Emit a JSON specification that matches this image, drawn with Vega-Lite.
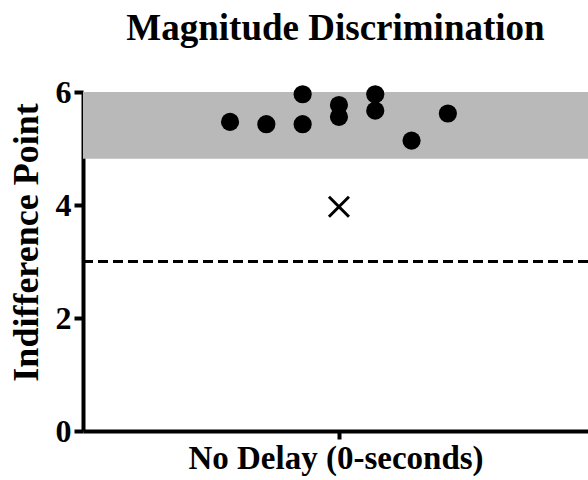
{
  "$schema": "https://vega.github.io/schema/vega-lite/v6.json",
  "autosize": "none",
  "padding": {"left": 83, "top": 92, "right": 0, "bottom": 49},
  "width": 505,
  "height": 339,
  "background": "white",
  "config": {
    "view": {"stroke": null},
    "font": "Liberation Serif"
  },
  "title": {
    "text": "Magnitude Discrimination",
    "font": "Liberation Serif",
    "fontSize": 37,
    "fontWeight": "bold",
    "color": "black",
    "offset": 28,
    "anchor": "middle"
  },
  "datasets": {
    "band": [{"lo": 4.82, "hi": 6}],
    "chance": [{"y": 3}],
    "points": [
      {"x": -3, "y": 5.47},
      {"x": -2, "y": 5.43},
      {"x": -1, "y": 5.96},
      {"x": -1, "y": 5.43},
      {"x": 0, "y": 5.77},
      {"x": 0, "y": 5.56},
      {"x": 1, "y": 5.96},
      {"x": 1, "y": 5.67},
      {"x": 2, "y": 5.14},
      {"x": 3, "y": 5.62}
    ],
    "mean": [{"x": 0, "y": 3.97}]
  },
  "layer": [
    {
      "data": {"name": "band"},
      "mark": {"type": "rect", "color": "#b9b9b9"},
      "encoding": {
        "y": {"field": "lo", "type": "quantitative", "scale": {"domain": [0, 6], "nice": false, "zero": false}},
        "y2": {"field": "hi"}
      }
    },
    {
      "data": {"name": "chance"},
      "mark": {"type": "rule", "color": "black", "strokeWidth": 3, "strokeDash": [10, 5]},
      "encoding": {
        "y": {"field": "y", "type": "quantitative"}
      }
    },
    {
      "data": {"name": "points"},
      "mark": {"type": "point", "shape": "circle", "filled": true, "color": "black", "opacity": 1, "size": 330},
      "encoding": {
        "x": {"field": "x", "type": "quantitative"},
        "y": {"field": "y", "type": "quantitative"}
      }
    },
    {
      "data": {"name": "mean"},
      "mark": {"type": "point", "shape": "M-1,-1L1,1M1,-1L-1,1", "filled": false, "color": "black", "opacity": 1, "strokeWidth": 3, "size": 400},
      "encoding": {
        "x": {"field": "x", "type": "quantitative"},
        "y": {"field": "y", "type": "quantitative"}
      }
    }
  ],
  "resolve": {"scale": {"x": "shared", "y": "shared"}},
  "encoding": {
    "x": {
      "type": "quantitative",
      "scale": {"domain": [-7.05, 6.86], "nice": false, "zero": false},
      "axis": {
        "title": "No Delay (0-seconds)",
        "values": [0],
        "labels": false,
        "grid": false,
        "domainColor": "black",
        "domainWidth": 4,
        "tickColor": "black",
        "tickWidth": 4,
        "tickSize": 8,
        "titleFont": "Liberation Serif",
        "titleFontSize": 33,
        "titleFontWeight": "bold",
        "titleColor": "black",
        "titlePadding": 1
      }
    },
    "y": {
      "type": "quantitative",
      "axis": {
        "title": "Indifference Point",
        "values": [0, 2, 4, 6],
        "grid": false,
        "domainColor": "black",
        "domainWidth": 4,
        "tickColor": "black",
        "tickWidth": 4,
        "tickSize": 9,
        "labelFont": "Liberation Serif",
        "labelFontSize": 32,
        "labelFontWeight": "bold",
        "labelColor": "black",
        "labelPadding": 3,
        "titleFont": "Liberation Serif",
        "titleFontSize": 36,
        "titleFontWeight": "bold",
        "titleColor": "black",
        "titlePadding": 10,
        "titleY": 150
      }
    }
  }
}
